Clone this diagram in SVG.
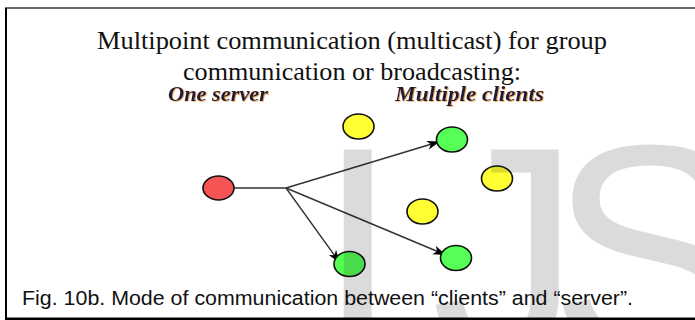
<svg xmlns="http://www.w3.org/2000/svg" width="695" height="320" viewBox="0 0 695 320">
  <defs>
    <marker id="arrow" markerWidth="14" markerHeight="10" refX="13" refY="5" orient="auto" markerUnits="userSpaceOnUse">
      <path d="M0,0.5 L13,5 L0,9.5 L3.5,5 z" fill="#000"/>
    </marker>
    <filter id="glow" x="-5%" y="-20%" width="110%" height="140%">
      <feDropShadow dx="0.8" dy="0.6" stdDeviation="0.6" flood-color="#e08a1e" flood-opacity="0.9"/>
    </filter>
  </defs>
  <style>
    .title { font-family: "Liberation Serif", "DejaVu Serif", serif; font-size: 25px; fill: #111; }
    .label { font-family: "Liberation Serif", "DejaVu Serif", serif; font-size: 20px; font-weight: bold; font-style: italic; fill: #1a1a3a; }
    .caption { font-family: "Liberation Sans", Arial, sans-serif; font-size: 20px; fill: #111; }
    .node { stroke: #111; stroke-width: 1.6; }
    .red { fill: #f55454; }
    .yellow { fill: #ffff33; }
    .green { fill: #55ff55; }
    .conn { stroke: #333; stroke-width: 1.4; fill: none; }
    .wm { font-family: "Liberation Sans", Arial, sans-serif; font-size: 300px; fill: #000; fill-opacity: 0.14; }
  </style>
  <rect x="0" y="0" width="695" height="320" fill="#fff"/>

  <!-- frame -->
  <g id="frame">
    <rect x="5" y="7" width="690" height="2" fill="#6a6a6a"/>
    <rect x="5" y="8" width="2" height="311" fill="#000"/>
    <rect x="5" y="317.5" width="690" height="2.5" fill="#000"/>
  </g>

  <!-- title -->
  <g id="title">
    <text class="title" x="352" y="49" text-anchor="middle" textLength="510" lengthAdjust="spacingAndGlyphs">Multipoint communication (multicast) for group</text>
    <text class="title" x="352" y="80" text-anchor="middle" textLength="338" lengthAdjust="spacingAndGlyphs">communication or broadcasting:</text>
  </g>

  <g id="label-server">
    <text class="label" x="168" y="101" textLength="100" lengthAdjust="spacingAndGlyphs" filter="url(#glow)">One server</text>
  </g>
  <g id="label-clients">
    <text class="label" x="395" y="101" textLength="149" lengthAdjust="spacingAndGlyphs" filter="url(#glow)">Multiple clients</text>
  </g>

  <!-- connectors -->
  <g id="connectors">
    <line class="conn" x1="234" y1="188" x2="286" y2="188"/>
    <line class="conn" x1="286" y1="188" x2="440" y2="141.5" marker-end="url(#arrow)"/>
    <line class="conn" x1="286" y1="188" x2="340" y2="263" marker-end="url(#arrow)"/>
    <line class="conn" x1="286" y1="188" x2="446" y2="255" marker-end="url(#arrow)"/>
  </g>

  <!-- nodes -->
  <g id="server"><ellipse class="node red" cx="218.5" cy="188" rx="15.5" ry="12"/></g>
  <g id="client-yellow-1"><ellipse class="node yellow" cx="358.5" cy="126.5" rx="15.5" ry="12.5"/></g>
  <g id="client-green-1"><ellipse class="node green" cx="452" cy="139.5" rx="15.5" ry="12.5"/></g>
  <g id="client-yellow-2"><ellipse class="node yellow" cx="497" cy="178.5" rx="15.5" ry="12.5"/></g>
  <g id="client-yellow-3"><ellipse class="node yellow" cx="422.5" cy="211.5" rx="15.5" ry="12.5"/></g>
  <g id="client-green-2"><ellipse class="node green" cx="349.5" cy="264" rx="15.5" ry="12.5"/></g>
  <g id="client-green-3"><ellipse class="node green" cx="456" cy="258" rx="15.5" ry="12.5"/></g>

  <!-- caption -->
  <g id="caption">
    <text class="caption" x="22" y="305" textLength="611" lengthAdjust="spacingAndGlyphs">Fig. 10b. Mode of communication between “clients” and “server”.</text>
  </g>

  <!-- watermark -->
  <g id="watermark">
    <text class="wm" x="316" y="356">I</text>
    <text class="wm" x="431" y="356">J</text>
    <text class="wm" x="549" y="354">S</text>
  </g>
</svg>
